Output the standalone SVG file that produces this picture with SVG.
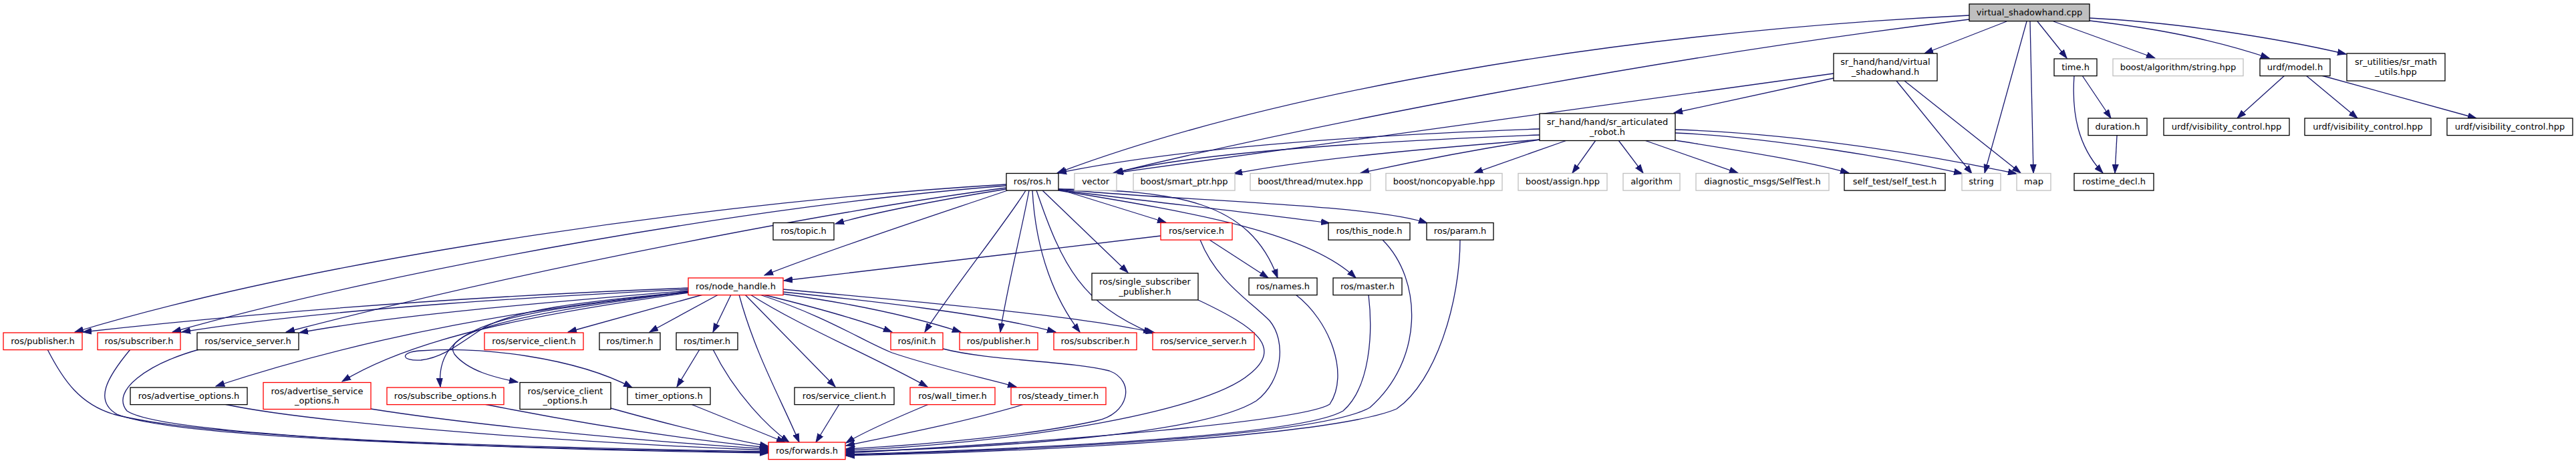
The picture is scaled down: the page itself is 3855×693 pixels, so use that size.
<svg xmlns="http://www.w3.org/2000/svg" width="3855" height="693" viewBox="0 0 3855 693">
<style>
.n rect{fill:#fff;stroke:#000;stroke-width:1.3}
.n.r rect{stroke:#f00}
.n.g rect{stroke:#bfbfbf}
.n.root rect{fill:#bfbfbf}
text{font-family:"DejaVu Sans",sans-serif;font-size:13px;text-anchor:middle;fill:#000}
#edges path{fill:none;stroke:#191970;stroke-width:1.3;marker-end:url(#a)}
</style>
<defs>
<marker id="a" markerWidth="14" markerHeight="10" refX="13" refY="5" orient="auto" markerUnits="userSpaceOnUse"><path d="M0,0.5 L13,5 L0,9.5 z" fill="#191970" stroke="#191970" stroke-width="1"/></marker>
</defs>
<rect width="3855" height="693" fill="#fff"/>
<g id="edges">
<path d="M3003,32 L2880,80"/>
<path d="M3033,32 L2970,259"/>
<path d="M3038,32 L3043,259"/>
<path d="M3049,32 L3093,87"/>
<path d="M3073,32 L3225,87"/>
<path d="M3127,27 C3250,33 3400,55 3511,81"/>
<path d="M3127,31 C3250,45 3330,65 3396,87"/>
<path d="M2947,23 C2400,50 1900,140 1582,259"/>
<path d="M2947,29 C2450,90 1950,190 1666,259"/>
<path d="M2744,117 L2505,169"/>
<path d="M2744,110 C2400,160 2000,210 1668,259"/>
<path d="M2838,121 L2951,260"/>
<path d="M2850,121 L3024,259"/>
<path d="M2304,193 C2100,200 1800,215 1583,259"/>
<path d="M2304,202 C2100,210 1800,225 1668,259"/>
<path d="M2304,209 C2100,225 1950,240 1846,260"/>
<path d="M2304,209 C2200,225 2100,245 2036,259"/>
<path d="M2345,210 L2206,259"/>
<path d="M2388,210 L2353,259"/>
<path d="M2422,210 L2459,259"/>
<path d="M2461,210 L2601,259"/>
<path d="M2507,210 C2600,225 2700,240 2767,259"/>
<path d="M2507,199 C2650,205 2850,240 2937,260"/>
<path d="M2507,194 C2700,200 2900,235 3018,260"/>
<path d="M3104,113 C3100,170 3110,220 3147,259"/>
<path d="M3116,113 L3159,177"/>
<path d="M3168,203 L3165,259"/>
<path d="M3419,113 L3348,177"/>
<path d="M3451,113 L3528,177"/>
<path d="M3474,113 L3706,177"/>
<path d="M1506,276 C1100,300 500,380 112,497"/>
<path d="M1506,278 C1150,305 600,400 258,497"/>
<path d="M1506,281 C1250,315 800,400 428,497"/>
<path d="M1506,283 C1400,300 1300,320 1250,335"/>
<path d="M1508,285 C1420,315 1250,370 1144,412"/>
<path d="M1535,285 C1515,320 1420,440 1384,497"/>
<path d="M1540,285 C1530,340 1505,440 1497,497"/>
<path d="M1545,285 C1550,380 1580,450 1616,497"/>
<path d="M1551,285 C1590,400 1620,455 1724,499"/>
<path d="M1560,285 L1688,408"/>
<path d="M1584,283 L1745,333"/>
<path d="M1584,283 C1760,285 1870,300 1912,416"/>
<path d="M1584,284 C1700,300 1850,315 1990,334"/>
<path d="M1584,283 C1750,300 2050,305 2136,334"/>
<path d="M1584,285 C1800,320 1960,350 2029,416"/>
<path d="M1737,353 C1550,375 1350,400 1173,420"/>
<path d="M1810,359 L1898,416"/>
<path d="M1796,359 C1820,420 1870,450 1900,480 C1925,510 1920,570 1880,600 C1800,650 1500,670 1266,676"/>
<path d="M1031,431 C850,438 500,455 124,497"/>
<path d="M1031,433 C850,442 500,460 272,497"/>
<path d="M1031,435 C850,450 600,470 448,498"/>
<path d="M1031,437 C800,460 560,500 323,578"/>
<path d="M1031,438 C800,470 620,505 512,571"/>
<path d="M1031,436 C760,470 650,480 659,579"/>
<path d="M1031,437 C760,470 660,500 680,530 C700,555 740,565 775,572"/>
<path d="M1031,437 C860,452 770,465 725,490 C690,512 665,535 630,539 C600,541 598,527 628,525 C720,518 860,535 946,580"/>
<path d="M1052,441 L850,497"/>
<path d="M1075,441 L972,497"/>
<path d="M1094,441 L1067,497"/>
<path d="M1106,441 C1130,530 1170,600 1196,662"/>
<path d="M1115,441 L1250,579"/>
<path d="M1123,441 C1200,490 1300,530 1388,579"/>
<path d="M1137,441 C1240,475 1290,510 1335,528 C1400,550 1470,565 1521,579"/>
<path d="M1142,441 C1220,460 1290,480 1335,497"/>
<path d="M1172,440 C1280,455 1370,475 1438,497"/>
<path d="M1172,437 C1300,450 1480,470 1580,497"/>
<path d="M1172,433 C1350,450 1600,470 1728,498"/>
<path d="M1047,523 L1013,579"/>
<path d="M1067,523 C1100,590 1150,640 1181,662"/>
<path d="M1034,605 L1175,662"/>
<path d="M1256,605 L1221,662"/>
<path d="M1390,605 C1330,630 1290,648 1266,663"/>
<path d="M1533,605 C1450,630 1350,650 1266,667"/>
<path d="M1411,522 C1480,540 1600,540 1660,555 C1700,570 1690,620 1640,630 C1550,650 1400,665 1266,672"/>
<path d="M1793,449 C1880,490 1920,520 1870,560 C1800,620 1500,665 1266,674"/>
<path d="M1939,441 C1990,480 2020,560 1990,605 C1950,630 1600,660 1266,678"/>
<path d="M2048,441 C2055,500 2050,580 2010,615 C1950,650 1600,670 1266,680"/>
<path d="M2069,359 C2130,420 2130,540 2050,610 C1980,650 1600,672 1266,681"/>
<path d="M2185,359 C2185,450 2150,570 2090,612 C2000,650 1600,675 1266,682"/>
<path d="M71,523 C95,570 120,605 170,620 C300,655 700,668 1150,676"/>
<path d="M195,523 C160,565 140,600 175,620 C260,655 700,670 1150,677"/>
<path d="M298,523 C220,545 165,585 190,615 C240,650 700,672 1150,678"/>
<path d="M336,605 C450,630 800,660 1150,674"/>
<path d="M555,612 C700,635 950,660 1150,672"/>
<path d="M725,605 C850,630 1000,655 1150,670"/>
<path d="M914,611 C1000,635 1080,655 1150,668"/>
</g>
<g id="n_cpp" class="n root"><rect x="2947" y="6" width="180" height="25.6"/><text x="3037" y="23">virtual_shadowhand.cpp</text></g>
<g id="n_vsh" class="n"><rect x="2744" y="80" width="155" height="41"/><text x="2821.5" y="97">sr_hand/hand/virtual</text><text x="2821.5" y="111.5">_shadowhand.h</text></g>
<g id="n_time" class="n"><rect x="3074" y="88" width="64" height="25.6"/><text x="3106" y="104.5">time.h</text></g>
<g id="n_balg" class="n g"><rect x="3162" y="88" width="195" height="25.6"/><text x="3259.5" y="104.5">boost/algorithm/string.hpp</text></g>
<g id="n_urdfm" class="n"><rect x="3382" y="88" width="105" height="25.6"/><text x="3434.5" y="104.5">urdf/model.h</text></g>
<g id="n_smu" class="n"><rect x="3512" y="80" width="147" height="41"/><text x="3585.5" y="97">sr_utilities/sr_math</text><text x="3585.5" y="111.5">_utils.hpp</text></g>
<g id="n_sar" class="n"><rect x="2304" y="170" width="203" height="40.5"/><text x="2405.5" y="187">sr_hand/hand/sr_articulated</text><text x="2405.5" y="201.5">_robot.h</text></g>
<g id="n_dur" class="n"><rect x="3125" y="177" width="88" height="25.6"/><text x="3169" y="193.5">duration.h</text></g>
<g id="n_vis1" class="n"><rect x="3238" y="177" width="188" height="25.6"/><text x="3332" y="193.5">urdf/visibility_control.hpp</text></g>
<g id="n_vis2" class="n"><rect x="3449" y="177" width="189" height="25.6"/><text x="3543.5" y="193.5">urdf/visibility_control.hpp</text></g>
<g id="n_vis3" class="n"><rect x="3662" y="177" width="188" height="25.6"/><text x="3756" y="193.5">urdf/visibility_control.hpp</text></g>
<g id="n_ros" class="n"><rect x="1506" y="259.5" width="78" height="25.6"/><text x="1545" y="276">ros/ros.h</text></g>
<g id="n_vector" class="n g"><rect x="1608" y="259.5" width="63" height="25.6"/><text x="1639.5" y="276">vector</text></g>
<g id="n_smart" class="n g"><rect x="1696" y="259.5" width="152" height="25.6"/><text x="1772" y="276">boost/smart_ptr.hpp</text></g>
<g id="n_mutex" class="n g"><rect x="1871" y="259.5" width="180" height="25.6"/><text x="1961" y="276">boost/thread/mutex.hpp</text></g>
<g id="n_noncopy" class="n g"><rect x="2074" y="259.5" width="174" height="25.6"/><text x="2161" y="276">boost/noncopyable.hpp</text></g>
<g id="n_assign" class="n g"><rect x="2272" y="259.5" width="133" height="25.6"/><text x="2338.5" y="276">boost/assign.hpp</text></g>
<g id="n_algo" class="n g"><rect x="2429" y="259.5" width="85" height="25.6"/><text x="2471.5" y="276">algorithm</text></g>
<g id="n_diag" class="n g"><rect x="2538" y="259.5" width="199" height="25.6"/><text x="2637.5" y="276">diagnostic_msgs/SelfTest.h</text></g>
<g id="n_selftest" class="n"><rect x="2760" y="259.5" width="151" height="25.6"/><text x="2835.5" y="276">self_test/self_test.h</text></g>
<g id="n_string" class="n g"><rect x="2936" y="259.5" width="58" height="25.6"/><text x="2965" y="276">string</text></g>
<g id="n_map" class="n g"><rect x="3018" y="259.5" width="51" height="25.6"/><text x="3043.5" y="276">map</text></g>
<g id="n_rostime" class="n"><rect x="3104" y="259.5" width="119" height="25.6"/><text x="3163.5" y="276">rostime_decl.h</text></g>
<g id="n_topic" class="n"><rect x="1157" y="333.5" width="91" height="25.6"/><text x="1202.5" y="350">ros/topic.h</text></g>
<g id="n_service" class="n r"><rect x="1737" y="333.5" width="107" height="25.6"/><text x="1790.5" y="350">ros/service.h</text></g>
<g id="n_thisnode" class="n"><rect x="1988" y="333.5" width="122" height="25.6"/><text x="2049" y="350">ros/this_node.h</text></g>
<g id="n_param" class="n"><rect x="2135" y="333.5" width="100" height="25.6"/><text x="2185" y="350">ros/param.h</text></g>
<g id="n_nh" class="n r"><rect x="1030" y="416" width="142" height="25.6"/><text x="1101" y="432.5">ros/node_handle.h</text></g>
<g id="n_ssp" class="n"><rect x="1634" y="409" width="159" height="40"/><text x="1713.5" y="426">ros/single_subscriber</text><text x="1713.5" y="440.5">_publisher.h</text></g>
<g id="n_names" class="n"><rect x="1869" y="416" width="102" height="25.6"/><text x="1920" y="432.5">ros/names.h</text></g>
<g id="n_master" class="n"><rect x="1995" y="416" width="103" height="25.6"/><text x="2046.5" y="432.5">ros/master.h</text></g>
<g id="n_pubL" class="n r"><rect x="5" y="498" width="118" height="25.6"/><text x="64" y="514.5">ros/publisher.h</text></g>
<g id="n_subL" class="n r"><rect x="146" y="498" width="124" height="25.6"/><text x="208" y="514.5">ros/subscriber.h</text></g>
<g id="n_ssL" class="n"><rect x="295" y="498" width="152" height="25.6"/><text x="371" y="514.5">ros/service_server.h</text></g>
<g id="n_scR" class="n r"><rect x="725" y="498" width="148" height="25.6"/><text x="799" y="514.5">ros/service_client.h</text></g>
<g id="n_timer1" class="n"><rect x="897" y="498" width="91" height="25.6"/><text x="942.5" y="514.5">ros/timer.h</text></g>
<g id="n_timer2" class="n"><rect x="1012" y="498" width="92" height="25.6"/><text x="1058" y="514.5">ros/timer.h</text></g>
<g id="n_init" class="n r"><rect x="1333" y="498" width="78" height="25.6"/><text x="1372" y="514.5">ros/init.h</text></g>
<g id="n_pubM" class="n r"><rect x="1436" y="498" width="117" height="25.6"/><text x="1494.5" y="514.5">ros/publisher.h</text></g>
<g id="n_subM" class="n r"><rect x="1577" y="498" width="124" height="25.6"/><text x="1639" y="514.5">ros/subscriber.h</text></g>
<g id="n_ssM" class="n r"><rect x="1725" y="498" width="152" height="25.6"/><text x="1801" y="514.5">ros/service_server.h</text></g>
<g id="n_advo" class="n"><rect x="195" y="580" width="175" height="25.6"/><text x="282.5" y="596.5">ros/advertise_options.h</text></g>
<g id="n_aso" class="n r"><rect x="394" y="572.5" width="161" height="40"/><text x="474.5" y="589.5">ros/advertise_service</text><text x="474.5" y="604">_options.h</text></g>
<g id="n_subo" class="n r"><rect x="579" y="580" width="175" height="25.6"/><text x="666.5" y="596.5">ros/subscribe_options.h</text></g>
<g id="n_sco" class="n"><rect x="778" y="572.5" width="136" height="40"/><text x="846" y="589.5">ros/service_client</text><text x="846" y="604">_options.h</text></g>
<g id="n_tmo" class="n"><rect x="939" y="580" width="124" height="25.6"/><text x="1001" y="596.5">timer_options.h</text></g>
<g id="n_scB" class="n"><rect x="1189" y="580" width="149" height="25.6"/><text x="1263.5" y="596.5">ros/service_client.h</text></g>
<g id="n_wall" class="n r"><rect x="1362" y="580" width="127" height="25.6"/><text x="1425.5" y="596.5">ros/wall_timer.h</text></g>
<g id="n_steady" class="n r"><rect x="1513" y="580" width="142" height="25.6"/><text x="1584" y="596.5">ros/steady_timer.h</text></g>
<g id="n_fwd" class="n r"><rect x="1150" y="662" width="115" height="25.6"/><text x="1207.5" y="678.5">ros/forwards.h</text></g>
</svg>
